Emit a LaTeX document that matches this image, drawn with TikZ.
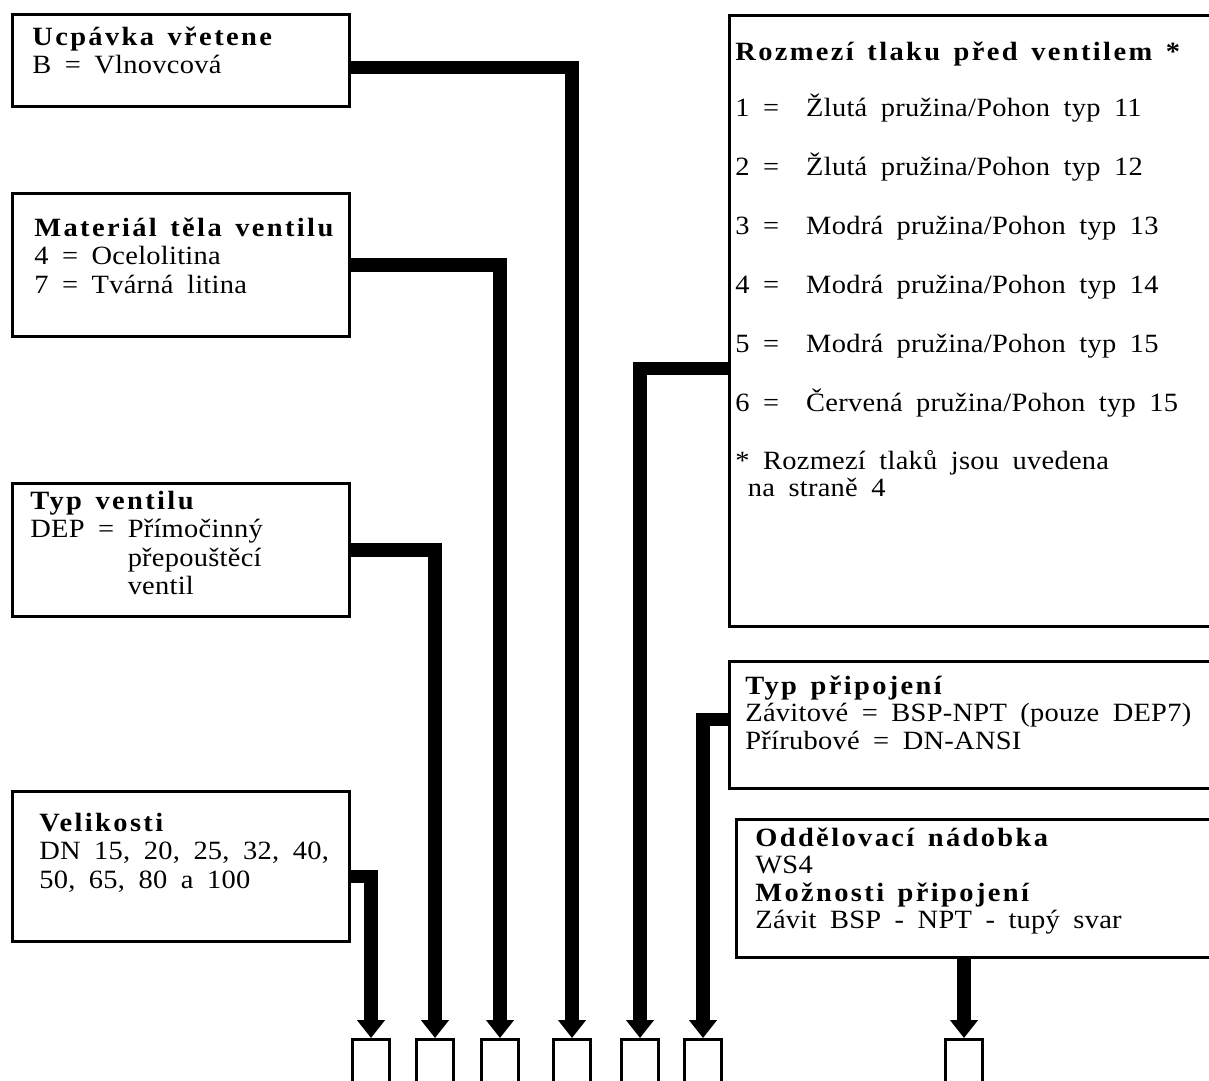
\documentclass[tikz,border=0pt]{standalone}
\usepackage{fontspec}
\setmainfont{Liberation Serif}[FakeStretch=1.08,LetterSpace=1]
\newfontfamily\hdfamily{Liberation Serif}[FakeStretch=1.08,LetterSpace=9]
\newcommand{\hd}[1]{{\hdfamily\bfseries #1}}
\usetikzlibrary{arrows.meta}
\tikzset{
  box/.style={draw, line width=0.06cm, anchor=north west, inner sep=0pt},
  txt/.style={anchor=base west, inner sep=0pt, text width=9.8cm, align=left,
    font=\fontsize{15pt}{16.3pt}\selectfont,
    execute at begin node={\spaceskip=7.7pt plus 1pt\relax}},
  slot/.style={draw, line width=0.06cm, anchor=north, minimum width=0.74cm,
    minimum height=1.4cm, inner sep=0pt},
  conn/.style={line width=0.27cm, -{Triangle[width=0.54cm,length=0.36cm]}}
}
\begin{document}
\begin{tikzpicture}[x=0.02cm,y=-0.02cm]
  \useasboundingbox (0,0) rectangle (1209,1080);
  \clip (0,0) rectangle (1209,1080);
  % left column
  \node[box, minimum width=6.74cm, minimum height=1.84cm] (ucpavka) at (11,13) {};
  \node[box, minimum width=6.74cm, minimum height=2.86cm] (material) at (11,192) {};
  \node[box, minimum width=6.74cm, minimum height=2.66cm] (typ) at (11,482) {};
  \node[box, minimum width=6.74cm, minimum height=3.0cm] (velikosti) at (11,790) {};
  % right column
  \node[box, minimum width=9.9cm, minimum height=12.22cm] (rozmezi) at (728,14) {};
  \node[box, minimum width=9.9cm, minimum height=2.54cm] (pripojeni) at (728,660) {};
  \node[box, minimum width=9.8cm, minimum height=2.76cm] (nadobka) at (735,818) {};
  % texts
  \node[txt] (ucpavka-t) at (32,45) {\hd{Ucpávka vřetene}\\ B = Vlnovcová};
  \node[txt] (material-t) at (34,236) {\hd{Materiál těla ventilu}\\
    4 = Ocelolitina\\ 7 = Tvárná litina};
  \node[txt] (typ-t) at (30,509) {\hd{Typ ventilu}\\ DEP = Přímočinný\\
    \phantom{DEP =\ }přepouštěcí\\ \phantom{DEP =\ }ventil};
  \node[txt] (velikosti-t) at (39,831) {\hd{Velikosti}\\
    DN 15, 20, 25, 32, 40,\\ 50, 65, 80 a 100};
  \node[txt] (rozmezi-t) at (735,60) {\hd{Rozmezí tlaku před ventilem *}\\[15.6pt]
    1 =~ Žlutá pružina/Pohon typ 11\\[17.3pt]
    2 =~ Žlutá pružina/Pohon typ 12\\[17.3pt]
    3 =~ Modrá pružina/Pohon typ 13\\[17.3pt]
    4 =~ Modrá pružina/Pohon typ 14\\[17.3pt]
    5 =~ Modrá pružina/Pohon typ 15\\[17.3pt]
    6 =~ Červená pružina/Pohon typ 15\\[16.8pt]
    * Rozmezí tlaků jsou uvedena\\[-0.8pt]
    \hspace*{0.25cm}na straně 4};
  \node[txt] (pripojeni-t) at (745,694) {\hd{Typ připojení}\\[-0.6pt]
    Závitové = BSP-NPT (pouze DEP7)\\[-0.6pt] Přírubové = DN-ANSI};
  \node[txt] (nadobka-t) at (755,846) {\hd{Oddělovací nádobka}\\[-0.6pt]
    WS4\\[-0.6pt] \hd{Možnosti připojení}\\[-0.6pt] Závit BSP - NPT - tupý svar};
  % slots along the bottom
  \foreach \n/\x in {s1/371, s2/435, s3/500, s4/572, s5/640, s6/703, s7/964}
    \node[slot] (\n) at (\x,1038) {};
  % connectors
  \draw[conn] ([yshift=-0.14cm]ucpavka.east) -| (s4.north);
  \draw[conn] (material.east) -| (s3.north);
  \draw[conn] (typ.east) -| (s2.north);
  \draw[conn] ([yshift=-0.2cm]velikosti.east) -| (s1.north);
  \draw[conn] ([yshift=-0.95cm]rozmezi.west) -| (s5.north);
  \draw[conn] ([yshift=0.11cm]pripojeni.west) -| (s6.north);
  \draw[conn] (s7 |- nadobka.south) -- (s7.north);
\end{tikzpicture}
\end{document}
